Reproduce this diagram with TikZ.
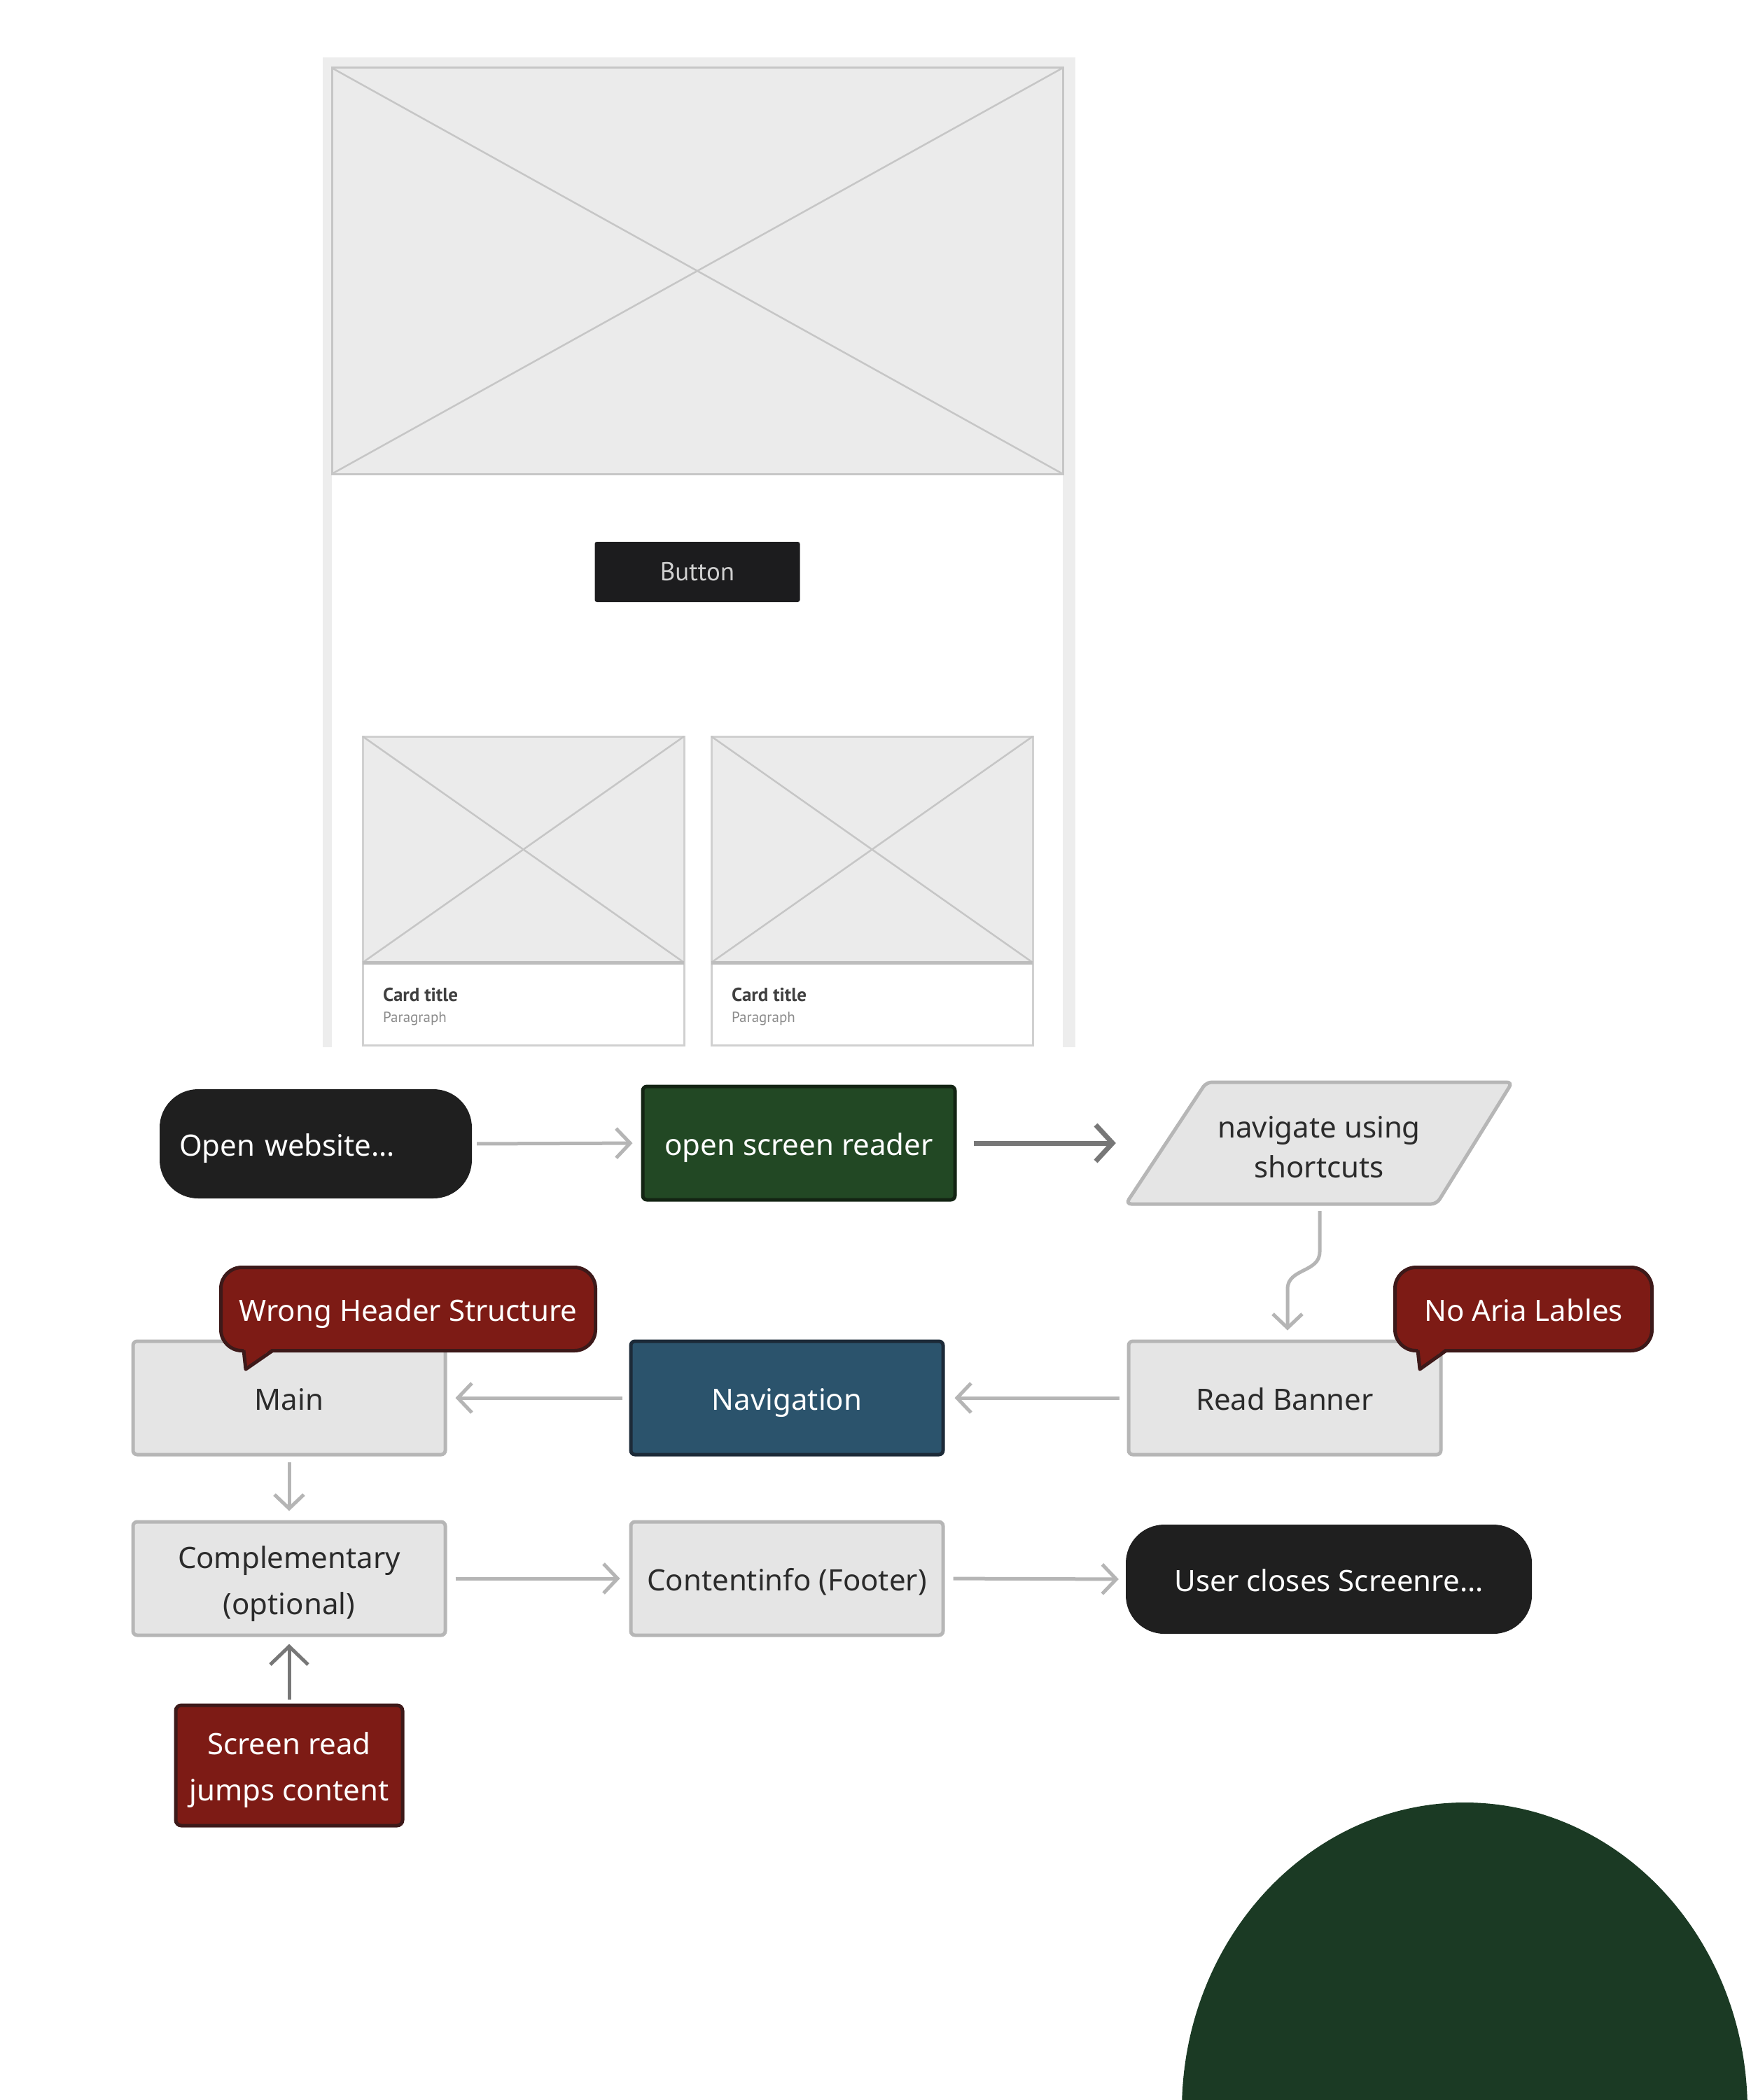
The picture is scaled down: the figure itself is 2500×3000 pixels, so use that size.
\documentclass[tikz,border=0pt]{standalone}
\usepackage{fontspec}
\setmainfont{Noto Sans}
\newfontfamily\wffont{PT Sans}
\usetikzlibrary{arrows.meta,calc}
\newcommand\topfix[1]{\rule{0pt}{#1}}
\definecolor{wfframe}{HTML}{EDEDED}
\definecolor{wfimg}{HTML}{EBEBEB}
\definecolor{wfline}{HTML}{C6C6C6}
\definecolor{cardline}{HTML}{D0D0D0}
\definecolor{sepline}{HTML}{BDBDBD}
\definecolor{btnfill}{HTML}{1C1C1E}
\definecolor{btntext}{HTML}{CFCFCF}
\definecolor{boxfill}{HTML}{E5E5E5}
\definecolor{boxline}{HTML}{B6B6B6}
\definecolor{boxtext}{HTML}{2B2B2B}
\definecolor{termfill}{HTML}{1F1F1F}
\definecolor{greenfill}{HTML}{224824}
\definecolor{greenline}{HTML}{132413}
\definecolor{bluefill}{HTML}{2B536C}
\definecolor{blueline}{HTML}{1C2A38}
\definecolor{redfill}{HTML}{7D1B15}
\definecolor{redline}{HTML}{3D1919}
\definecolor{arrowlight}{HTML}{B5B5B5}
\definecolor{arrowdark}{HTML}{777777}
\definecolor{decogreen}{HTML}{1B3A24}
\tikzset{
  flow/.style={font=\fontsize{42}{66}\selectfont, align=center, inner sep=0pt},
  oneline/.style={text height=36pt, text depth=1pt},
  graybox/.style={flow, draw=boxline, fill=boxfill, line width=5pt, rounded corners=6pt, text=boxtext, minimum width=446pt, minimum height=162pt},
  greenbox/.style={graybox, draw=greenline, fill=greenfill, text=white},
  bluebox/.style={graybox, draw=blueline, fill=bluefill, text=white},
  redbox/.style={graybox, draw=redline, fill=redfill, text=white, rounded corners=8pt},
  terminal/.style={flow, fill=termfill, text=white, rounded corners=55pt, minimum height=156pt},
  lightarrow/.style={draw=arrowlight, line width=5pt, -{Straight Barb[length=20pt,width=42pt]}},
  darkarrow/.style={draw=arrowdark, line width=7pt, -{Straight Barb[length=24pt,width=52pt]}},
  screenarrow/.style={draw=arrowdark, line width=5pt, -{Straight Barb[length=26pt,width=54pt]}},
  wfdiag/.style={draw=wfline, line width=2.5pt},
  cardtitle/.style={font=\wffont\bfseries\fontsize{27}{32}\selectfont, text=black!75, inner sep=0pt, anchor=west},
  cardpara/.style={font=\wffont\fontsize{21}{25}\selectfont, text=black!45, inner sep=0pt, anchor=west},
}
\begin{document}
\begin{tikzpicture}[x=1pt,y=-1pt]
\useasboundingbox (0,0) rectangle (2500,3000);
\fill[white] (0,0) rectangle (2500,3000);

% ---------- wireframe ----------
\fill[wfframe] (461,82) rectangle (1536,1496);
\fill[white] (474,97) rectangle (1518,1496);
\filldraw[fill=wfimg, draw=wfline, line width=3pt] (474,97) rectangle (1518,677);
\draw[wfdiag] (474,97) -- (1518,677) (1518,97) -- (474,677);

\node[fill=btnfill, text=btntext, rounded corners=3pt, minimum width=293pt, minimum height=86pt, inner sep=0pt,
      font=\wffont\fontsize{37}{44}\selectfont] (button) at (996,817) {Button};

% card 1
\filldraw[fill=wfimg, draw=cardline, line width=3pt] (518,1052) rectangle (977,1375);
\draw[wfdiag] (518,1052) -- (977,1375) (977,1052) -- (518,1375);
\draw[cardline, line width=3pt] (518,1375) rectangle (977,1493);
\draw[sepline, line width=5pt] (518,1375) -- (977,1375);
\node[cardtitle] (title1) at (547,1421) {Card title};
\node[cardpara] (para1) at (547,1455) {Paragraph};
% card 2
\filldraw[fill=wfimg, draw=cardline, line width=3pt] (1016,1052) rectangle (1475,1375);
\draw[wfdiag] (1016,1052) -- (1475,1375) (1475,1052) -- (1016,1375);
\draw[cardline, line width=3pt] (1016,1375) rectangle (1475,1493);
\draw[sepline, line width=5pt] (1016,1375) -- (1475,1375);
\node[cardtitle] (title2) at (1045,1421) {Card title};
\node[cardpara] (para2) at (1045,1455) {Paragraph};

% ---------- decorative shape ----------
\begin{scope}
\clip (0,0) rectangle (2500,3000);
\fill[decogreen] (2092,3015) ellipse [x radius=404pt, y radius=440pt];
\end{scope}

% ---------- flowchart ----------
\node[terminal, oneline, text width=390pt, align=left, inner xsep=28pt] (open) at (451,1634) {Open website…};
\node[greenbox, oneline] (reader) at (1141,1633) {open screen reader};
\filldraw[fill=boxfill, draw=boxline, line width=5pt, rounded corners=8pt]
  (1723,1546) -- (2160,1546) -- (2052,1720) -- (1608,1720) -- cycle;
\node[flow, text=boxtext, font=\fontsize{42}{57}\selectfont, minimum width=552pt, minimum height=174pt] (nav) at (1884,1633) {\topfix{42pt}navigate using\\shortcuts};

\node[graybox, oneline] (main) at (413,1997) {Main};
\node[bluebox, oneline] (navigation) at (1124,1997) {Navigation};
\node[graybox, oneline] (banner) at (1835,1997) {Read Banner};
\node[graybox] (comp) at (413,2255) {\topfix{48pt}Complementary\\(optional)};
\node[graybox, oneline] (content) at (1124,2255) {Contentinfo (Footer)};
\node[terminal, oneline, minimum width=580pt] (close) at (1898,2256) {User closes Screenre…};
\node[redbox, minimum width=324pt, minimum height=172pt] (screen) at (413,2522) {\topfix{46pt}Screen read\\jumps content};

% connectors
\draw[lightarrow, shorten <=7pt, shorten >=12pt] (open.east) -- (reader.west);
\draw[darkarrow, shorten <=24pt, shorten >=14pt] (reader.east) -- (reader.east -| nav.west);
\draw[lightarrow] ($(nav.south)+(1,10)$) -- ++(0,58)
   .. controls +(0,30) and +(0,-30) .. ($(banner.north)+(4,-72)$) -- ($(banner.north)+(4,-13)$);
\draw[lightarrow, shorten <=11pt, shorten >=14pt] (banner.west) -- (navigation.east);
\draw[lightarrow, shorten <=10pt, shorten >=12pt] (navigation.west) -- (main.east);
\draw[lightarrow, shorten <=8pt, shorten >=13pt] (main.south) -- (comp.north);
\draw[lightarrow, shorten <=12pt, shorten >=13pt] (comp.east) -- (content.west);
\draw[lightarrow, shorten <=12pt, shorten >=10pt] (content.east) -- (close.west);
\draw[screenarrow, shorten <=6pt, shorten >=10pt] (screen.north) -- (comp.south);

% callouts
\node[redbox, oneline, rounded corners=30pt, minimum width=535pt, minimum height=119pt] (wrong) at (583,1870) {Wrong Header Structure};
\fill[redfill] ($(wrong.south west)+(35,-7)$) -- ($(wrong.south west)+(38,24)$) -- ($(wrong.south west)+(77,-7)$) -- cycle;
\draw[redline, line width=5pt, line join=round] ($(wrong.south west)+(35,-3)$) -- ($(wrong.south west)+(38,24)$) -- ($(wrong.south west)+(77,-3)$);

\node[redbox, oneline, rounded corners=30pt, minimum width=367pt, minimum height=119pt] (aria) at (2176,1870) {No Aria Lables};
\fill[redfill] ($(aria.south west)+(35,-7)$) -- ($(aria.south west)+(38,24)$) -- ($(aria.south west)+(76,-7)$) -- cycle;
\draw[redline, line width=5pt, line join=round] ($(aria.south west)+(35,-3)$) -- ($(aria.south west)+(38,24)$) -- ($(aria.south west)+(76,-3)$);
\end{tikzpicture}
\end{document}
